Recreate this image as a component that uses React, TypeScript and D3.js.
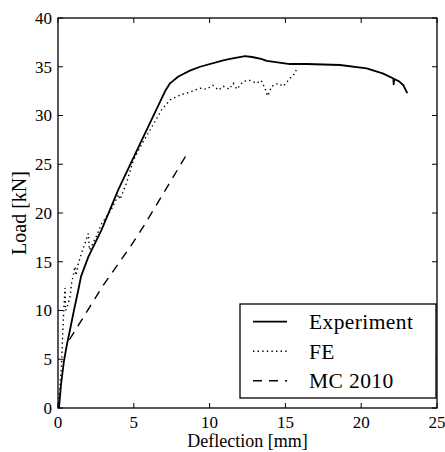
import React from "react";
import * as d3 from "d3";

const W = 445;
const H = 452;

const xTicks = [0, 5, 10, 15, 20, 25];
const yTicks = [0, 5, 10, 15, 20, 25, 30, 35, 40];

const expDeflection = [0, 0.07, 0.2, 0.4, 0.6, 0.79, 1.05, 1.34, 1.52, 2.0, 2.88, 3.98, 5.41, 6.73, 7.1, 7.39, 7.94, 8.7, 9.37, 10.9, 11.35, 12.34, 12.8, 13.4, 13.77, 15.3, 16.4, 18.6, 20.36, 21.46, 22.12, 22.14, 22.18, 22.5, 22.78, 23.04];
const expLoad = [0, 0.1, 2.4, 4.9, 6.6, 8.0, 10.0, 12.1, 13.5, 15.5, 18.3, 22.4, 27.1, 31.4, 32.6, 33.3, 34.0, 34.6, 35.0, 35.65, 35.8, 36.1, 36.0, 35.8, 35.6, 35.28, 35.28, 35.18, 34.84, 34.3, 33.8, 33.2, 33.75, 33.5, 33.1, 32.3];

const feDeflection = [0, 0.13, 0.24, 0.3, 0.38, 0.46, 0.5, 0.6, 0.79, 0.9, 1.12, 1.18, 1.34, 1.56, 1.78, 2.0, 2.08, 2.5, 2.88, 3.5, 4.0, 4.09, 4.5, 4.97, 5.5, 6.07, 6.84, 7.39, 8.05, 8.7, 9.37, 9.8, 10.2, 10.6, 10.9, 11.3, 11.56, 11.8, 12.22, 12.66, 13.1, 13.4, 13.65, 13.83, 14.1, 14.53, 14.86, 15.3, 15.63, 15.74];
const feLoad = [0, 2.2, 4.6, 7.3, 10.0, 12.3, 10.0, 10.3, 11.4, 12.8, 14.5, 13.6, 14.8, 15.9, 16.9, 17.9, 16.2, 17.5, 18.9, 20.3, 21.9, 21.4, 23.0, 25.4, 27.0, 28.5, 30.6, 31.6, 32.1, 32.4, 32.8, 32.7, 33.1, 32.6, 33.0, 32.7, 33.3, 32.7, 33.5, 33.6, 33.3, 33.6, 32.8, 32.0, 33.0, 33.3, 33.0, 33.8, 34.3, 34.8];

const mcDeflection = [0.75, 2.99, 4.75, 5.63, 6.95, 8.6];
const mcLoad = [7.0, 12.6, 16.5, 18.6, 22.0, 26.3];

const legendLabels = ["Experiment", "FE", "MC 2010"];

const FONT = '"Liberation Serif", "DejaVu Serif", serif';

export default function App() {
  const x = d3.scaleLinear().domain([0, 25]).range([58, 437]);
  const y = d3.scaleLinear().domain([0, 40]).range([408, 18]);
  const line = d3
    .line<[number, number]>()
    .x((d) => x(d[0]))
    .y((d) => y(d[1]));

  const exp = line(expDeflection.map((d, i) => [d, expLoad[i]] as [number, number])) || "";
  const fe = line(feDeflection.map((d, i) => [d, feLoad[i]] as [number, number])) || "";
  const mc = line(mcDeflection.map((d, i) => [d, mcLoad[i]] as [number, number])) || "";

  const styles = [
    { strokeWidth: 1.8, dash: undefined as string | undefined },
    { strokeWidth: 1.4, dash: "1.4,3.2" },
    { strokeWidth: 1.4, dash: "9,7" },
  ];

  const [x0, x1] = x.range();
  const [y0, y1] = y.range();
  const tickLen = 5;
  const ts = { fontFamily: FONT };

  return (
    <svg
      width={W}
      height={H}
      style={{ position: "absolute", left: 0, top: 0, background: "#fff", fontFamily: FONT }}
    >
      <rect x={0} y={0} width={W} height={H} fill="#fff" />
      <defs>
        <clipPath id="plotclip">
          <rect x={x0} y={y1} width={x1 - x0} height={y0 - y1} />
        </clipPath>
      </defs>
      <g clipPath="url(#plotclip)">
        <path d={mc} fill="none" stroke="#000" strokeWidth={1.4} strokeDasharray="9,7" />
        <path d={fe} fill="none" stroke="#000" strokeWidth={1.4} strokeDasharray="1.4,3.2" />
        <path d={exp} fill="none" stroke="#000" strokeWidth={1.8} strokeLinejoin="round" />
      </g>

      {xTicks.map((t) => (
        <g key={"xt" + t}>
          <line x1={x(t)} x2={x(t)} y1={y0} y2={y0 - tickLen} stroke="#000" strokeWidth={1} />
          <line x1={x(t)} x2={x(t)} y1={y1} y2={y1 + tickLen} stroke="#000" strokeWidth={1} />
          <text x={x(t)} y={428} textAnchor="middle" fontSize={17} style={ts}>
            {t}
          </text>
        </g>
      ))}
      {yTicks.map((t) => (
        <g key={"yt" + t}>
          <line x1={x0} x2={x0 + tickLen} y1={y(t)} y2={y(t)} stroke="#000" strokeWidth={1} />
          <line x1={x1} x2={x1 - tickLen} y1={y(t)} y2={y(t)} stroke="#000" strokeWidth={1} />
          <text x={52} y={y(t)} dy="0.35em" textAnchor="end" fontSize={17} style={ts}>
            {t}
          </text>
        </g>
      ))}

      <rect x={x0} y={y1} width={x1 - x0} height={y0 - y1} fill="none" stroke="#000" strokeWidth={1.3} />

      <text x={(x0 + x1) / 2} y={447} textAnchor="middle" fontSize={18} style={ts}>
        Deflection [mm]
      </text>
      <text
        transform={`translate(26,${(y0 + y1) / 2}) rotate(-90)`}
        textAnchor="middle"
        fontSize={20}
        style={ts}
      >
        Load [kN]
      </text>

      <rect x={240} y={304} width={196} height={94} fill="#fff" stroke="#000" strokeWidth={1.3} />
      {legendLabels.map((lab, i) => {
        const by = 329.3 + i * 29.5;
        return (
          <g key={lab}>
            <line
              x1={253}
              x2={287}
              y1={by - 7.6}
              y2={by - 7.6}
              stroke="#000"
              strokeWidth={styles[i].strokeWidth}
              strokeDasharray={styles[i].dash}
            />
            <text x={309} y={by} fontSize={21.5} letterSpacing={0.4} style={ts}>
              {lab}
            </text>
          </g>
        );
      })}
    </svg>
  );
}
